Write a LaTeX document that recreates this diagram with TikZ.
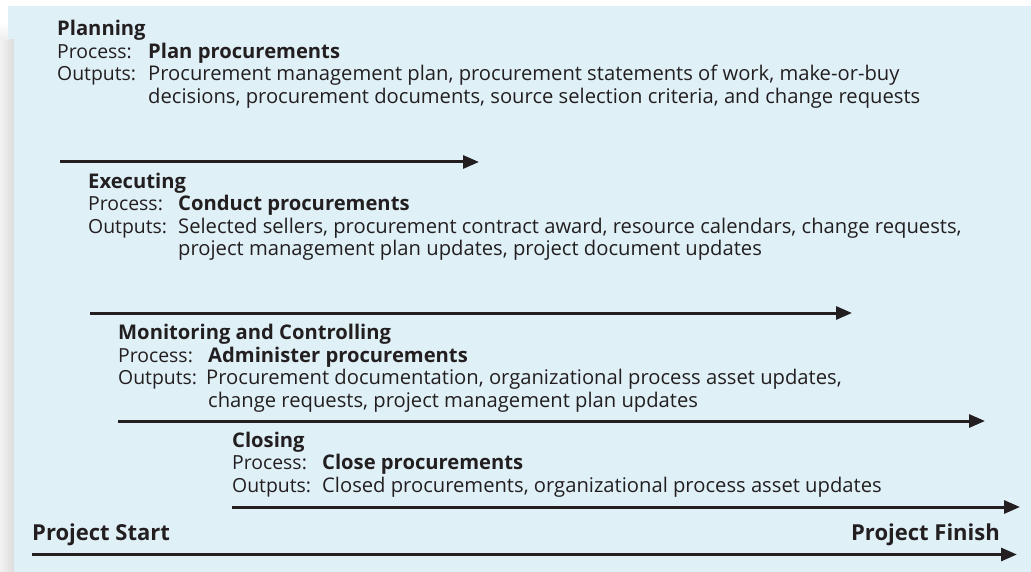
\documentclass[tikz,border=0pt]{standalone}
\usepackage{fontspec}
\setmainfont{Open Sans}
\usetikzlibrary{arrows.meta}
\definecolor{panel}{HTML}{DFF0F7}
\definecolor{ink}{HTML}{231F20}
\definecolor{shade1}{HTML}{F2F2F2}
\definecolor{shade2}{HTML}{DCDCDC}
\tikzset{
  txt/.style={anchor=base west, inner sep=0pt, text=ink, font=\fontsize{20.2}{24}\selectfont},
  lbl/.style={txt, font=\fontsize{19.4}{24}\selectfont},
  ttl/.style={txt, font=\fontsize{20.2}{24}\selectfont\bfseries},
  big/.style={inner sep=0pt, text=ink, font=\fontsize{22}{26}\selectfont\bfseries},
  tl/.style={draw=ink, line width=3pt, -{Triangle[length=16pt,width=13pt]}},
}
\begin{document}
\begin{tikzpicture}[x=1pt,y=-1pt]
\useasboundingbox (0,0) rectangle (1031,572);
% panel and shadow
\fill[white] (0,0) rectangle (1031,572);
\fill[panel] (8,6) rectangle (1031,572);
\shade[left color=shade1, right color=shade2] (0,40) rectangle (14,572);
\shade[top color=white, bottom color=shade1!80!shade2] (0,22) rectangle (8,40);
\fill[panel] (14,6) rectangle (15,572);

% Planning
\node[ttl] (plan-t) at (57,36) {Planning};
\node[lbl] (plan-pl) at (57,58.5) {Process:};
\node[ttl] (plan-p) at (148,58.5) {Plan procurements};
\node[lbl] (plan-ol) at (57,81) {Outputs:};
\node[txt] (plan-o1) at (148,81) {Procurement management plan, procurement statements of work, make-or-buy};
\node[txt] (plan-o2) at (148,104) {decisions, procurement documents, source selection criteria, and change requests};
\coordinate (a1s) at (60,162);
\coordinate (a1e) at (479,162);
\draw[tl] (a1s) -- (a1e);

% Executing
\node[ttl] (exe-t) at (88,188.5) {Executing};
\node[lbl] (exe-pl) at (88,211) {Process:};
\node[ttl] (exe-p) at (178,211) {Conduct procurements};
\node[lbl] (exe-ol) at (88,233.5) {Outputs:};
\node[txt] (exe-o1) at (178,233.5) {Selected sellers, procurement contract award, resource calendars, change requests,};
\node[txt] (exe-o2) at (178,256) {project management plan updates, project document updates};
\coordinate (a2s) at (90,313);
\coordinate (a2e) at (852,313);
\draw[tl] (a2s) -- (a2e);

% Monitoring and Controlling
\node[ttl] (mon-t) at (118,339.5) {Monitoring and Controlling};
\node[lbl] (mon-pl) at (118,362) {Process:};
\node[ttl] (mon-p) at (208,362) {Administer procurements};
\node[lbl] (mon-ol) at (118,384.5) {Outputs:};
\node[txt] (mon-o1) at (206,384.5) {Procurement documentation, organizational process asset updates,};
\node[txt] (mon-o2) at (208,407) {change requests, project management plan updates};
\coordinate (a3s) at (118,421);
\coordinate (a3e) at (985,421);
\draw[tl] (a3s) -- (a3e);

% Closing
\node[ttl] (clo-t) at (232,447) {Closing};
\node[lbl] (clo-pl) at (232,469.5) {Process:};
\node[ttl] (clo-p) at (322,469.5) {Close procurements};
\node[lbl] (clo-ol) at (232,492) {Outputs:};
\node[txt] (clo-o1) at (322,492) {Closed procurements, organizational process asset updates};
\coordinate (a4s) at (232,507);
\coordinate (a4e) at (1020,507);
\draw[tl] (a4s) -- (a4e);

% Project line
\node[big, anchor=base west] (pstart) at (32,540) {Project Start};
\node[big, anchor=base east] (pfinish) at (1000,540) {Project Finish};
\coordinate (a5s) at (32,554.5);
\coordinate (a5e) at (1017,554.5);
\draw[tl] (a5s) -- (a5e);
\end{tikzpicture}
\end{document}
